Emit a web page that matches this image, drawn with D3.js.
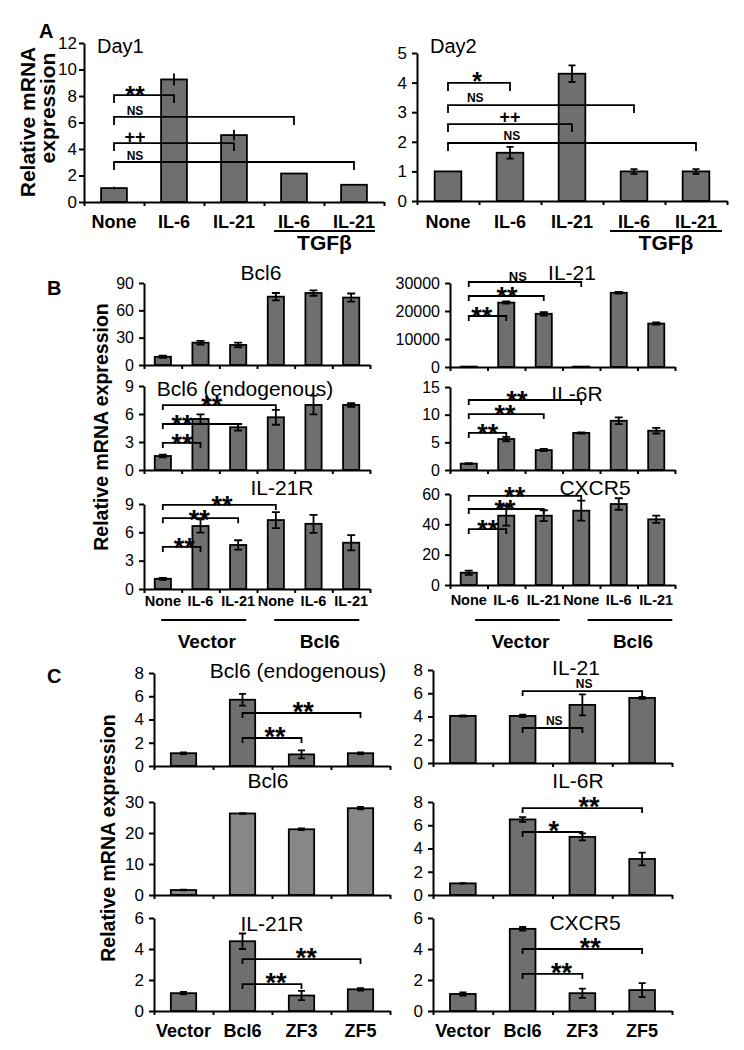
<!DOCTYPE html>
<html><head><meta charset="utf-8">
<script src="https://cdn.jsdelivr.net/npm/d3@7"></script>
<style>
body{margin:0;background:#fff}
svg{display:block}
text{font-family:"Liberation Sans",Arial,Helvetica,sans-serif;fill:#000}
</style>
</head><body>
<svg id="chart" width="744" height="1050"></svg>
<script>
// ---------------- DATA ----------------
const catsA = ["None", "IL-6", "IL-21", "IL-6", "IL-21"];
const day1Values = [1.05, 9.25, 5.05, 2.15, 1.3];
const day1Errors = [0.1, 0.45, 0.4, 0, 0];
const day2Values = [1.0, 1.63, 4.3, 1.0, 1.0];
const day2Errors = [0, 0.2, 0.28, 0.08, 0.08];
const ticksDay1 = [0, 2, 4, 6, 8, 10, 12];
const ticksDay2 = [0, 1, 2, 3, 4, 5];
// brackets: [from, to, level (data units), label, label position (category index)]
const day1Brackets = [[0, 1, 8.07, "**", 0.35], [0, 3, 6.42, "NS", 0.35], [0, 2, 4.45, "++", 0.35], [0, 4, 3.02, "NS", 0.35]];
const day2Brackets = [[0, 1, 3.99, "*", 0.47], [0, 3, 3.24, "NS", 0.44], [0, 2, 2.6, "++", 1.0], [0, 4, 1.96, "NS", 1.03]];

const catsB = ["None", "IL-6", "IL-21", "None", "IL-6", "IL-21"];
const groupsB = ["Vector", "Bcl6"];
const bBcl6Values = [9, 24.5, 22, 75, 79, 74];
const bBcl6Errors = [1.2, 2, 2.5, 4, 3, 4.5];
const bBcl6EndoValues = [1.5, 5.47, 4.58, 5.65, 6.97, 6.97];
const bBcl6EndoErrors = [0.15, 0.5, 0.35, 0.8, 1.0, 0.2];
const bIL21RValues = [1.08, 6.67, 4.66, 7.3, 6.9, 4.9];
const bIL21RErrors = [0.1, 0.7, 0.5, 0.85, 0.95, 0.8];
const bIL21Values = [150, 23000, 19000, 150, 26500, 15500];
const bIL21Errors = [0, 400, 600, 0, 300, 400];
const bIL6RValues = [1.15, 5.6, 3.6, 6.7, 8.9, 7.1];
const bIL6RErrors = [0.1, 0.4, 0.2, 0.1, 0.6, 0.5];
const bCXCR5Values = [8.1, 45.7, 45.7, 49, 53.4, 43.3];
const bCXCR5Errors = [1.4, 6.5, 3.6, 6.6, 3.8, 2.4];
const ticksBBcl6 = [0, 30, 60, 90];
const ticksB9 = [0, 3, 6, 9];
const ticksBIL21 = [0, 10000, 20000, 30000];
const ticksBIL6R = [0, 5, 10, 15];
const ticksBCXCR5 = [0, 20, 40, 60];
const bBcl6EndoBrackets = [[0, 3, 6.96, "**", 1.3], [0, 2, 4.93, "**", 0.51], [0, 1, 2.9, "**", 0.51]];
const bIL21RBrackets = [[0, 3, 8.9, "**", 1.57], [0, 2, 7.5, "**", 0.97], [0, 1, 4.45, "**", 0.57]];
const bIL21Brackets = [[0, 3, 30350, "NS", 1.31], [0, 2, 25360, "**", 1.02], [0, 1, 18210, "**", 0.35]];
const bIL6RBrackets = [[0, 3, 12.65, "**", 1.29], [0, 2, 10.1, "**", 0.97], [0, 1, 6.7, "**", 0.51]];
const bCXCR5Brackets = [[0, 3, 58.7, "**", 1.23], [0, 2, 50.1, "**", 0.97], [0, 1, 36.9, "**", 0.51]];

const catsC = ["Vector", "Bcl6", "ZF3", "ZF5"];
const cBcl6EndoValues = [1.1, 5.7, 1.0, 1.1];
const cBcl6EndoErrors = [0.08, 0.5, 0.35, 0.08];
const cBcl6Values = [1.6, 26.3, 21.2, 28];
const cBcl6Errors = [0.1, 0.1, 0.3, 0.4];
const cIL21RValues = [1.15, 4.5, 1.0, 1.4];
const cIL21RErrors = [0.08, 0.5, 0.3, 0.08];
const cIL21Values = [4.05, 4.05, 5.0, 5.6];
const cIL21Errors = [0.05, 0.1, 0.9, 0.08];
const cIL6RValues = [1.0, 6.5, 5.0, 3.1];
const cIL6RErrors = [0.03, 0.2, 0.3, 0.55];
const cCXCR5Values = [1.1, 5.3, 1.15, 1.35];
const cCXCR5Errors = [0.1, 0.12, 0.3, 0.45];
const ticksC8 = [0, 2, 4, 6, 8];
const ticksC30 = [0, 10, 20, 30];
const ticksC6 = [0, 2, 4, 6];
const cBcl6EndoBrackets = [[1, 3, 4.56, "**", 2.03], [1, 2, 2.41, "**", 1.55]];
const cIL21RBrackets = [[1, 3, 3.35, "**", 2.08], [1, 2, 1.74, "**", 1.57]];
const cIL21Brackets = [[1, 3, 6.19, "NS", 2.03], [1, 2, 3.01, "NS", 1.53]];
const cIL6RBrackets = [[1, 3, 7.48, "**", 2.11], [1, 2, 5.42, "*", 1.52]];
const cCXCR5Brackets = [[1, 3, 4.0, "**", 2.13], [1, 2, 2.39, "**", 1.65]];

// ---------------- DRAWING ----------------
const svg = d3.select("#chart");
const BAR = "#6f6f6f";
const SW = 1.8;

// glyph bottom (em above baseline) for annotation labels
function labelStyle(lab, kind) {
  if (lab.includes("*")) return {size: kind === "A" ? 25 : 27, lift: 0.42};
  if (lab.includes("+")) return {size: 18, lift: 0.11};
  return {size: kind === "B" ? 13 : 12, lift: 0};
}

function panel(o) {
  const n = o.values.length;
  const x = d3.scaleBand().domain(d3.range(n)).range([o.x0, o.x1]).paddingInner(0.57).paddingOuter(0.285);
  const xi = d3.scaleLinear().domain([0, n]).range([o.x0, o.x1]);
  const y = d3.scaleLinear().domain([0, o.max]).range([o.y0, o.yTop]);
  const bw = x.bandwidth();
  const g = svg.append("g");

  // bars
  g.selectAll("rect").data(o.values).join("rect")
    .attr("x", (d, i) => x(i)).attr("y", d => y(d))
    .attr("width", bw).attr("height", d => Math.max(0.6, y(0) - y(d)))
    .attr("fill", o.fill || BAR).attr("stroke", "#000").attr("stroke-width", SW);

  // error bars
  const eb = g.append("g").attr("stroke", "#000").attr("stroke-width", SW).attr("fill", "none");
  o.values.forEach((v, i) => {
    const e = o.errors[i];
    if (!e) return;
    const cx = x(i) + bw / 2;
    const y1 = y(v + e), y2 = y(Math.max(0, v - e));
    let d = `M${cx},${y1}V${y2}`;
    if (o.cap) d += `M${cx - o.cap / 2},${y1}H${cx + o.cap / 2}M${cx - o.cap / 2},${y2}H${cx + o.cap / 2}`;
    eb.append("path").attr("d", d);
  });

  // y axis
  const ya = g.append("g").attr("transform", `translate(${o.x0},0)`)
    .call(d3.axisLeft(y).tickValues(o.ticks).tickSize(5).tickSizeOuter(0).tickPadding(o.pad).tickFormat(d3.format("d")));
  ya.attr("font-size", null).attr("font-family", null);
  ya.selectAll("path,line").attr("stroke", "#000").attr("stroke-width", 2);
  ya.selectAll("text").style("font-size", o.tickFont + "px").attr("fill", "#000");

  // x axis with boundary ticks
  const xa = g.append("g").attr("transform", `translate(0,${o.y0})`)
    .call(d3.axisBottom(xi).tickValues(d3.range(n + 1)).tickSize(4).tickSizeOuter(0).tickFormat(""));
  xa.selectAll("path,line").attr("stroke", "#000").attr("stroke-width", 2);

  // brackets
  (o.brackets || []).forEach(([a, b, lv, lab, at]) => {
    const xa1 = x(a) + bw / 2, xb1 = x(b) + bw / 2, yy = y(lv);
    g.append("path").attr("d", `M${xa1},${yy + o.tick}V${yy}H${xb1}V${yy + o.tick}`)
      .attr("fill", "none").attr("stroke", "#000").attr("stroke-width", SW);
    const st = labelStyle(lab, o.kind);
    g.append("text").attr("x", xi(at + 0.5)).attr("y", yy - o.gap + st.lift * st.size)
      .attr("text-anchor", "middle").style("font-size", st.size + "px").style("font-weight", "bold").text(lab);
  });

  // title
  if (o.title) {
    g.append("text").attr("x", o.title[1]).attr("y", o.title[2])
      .attr("text-anchor", o.title[3] || "middle").style("font-size", (o.title[4] || 21) + "px").text(o.title[0]);
  }

  // category labels
  if (o.cats) {
    g.selectAll("text.cat").data(o.cats).join("text").attr("class", "cat")
      .attr("x", (d, i) => x(i) + bw / 2).attr("y", o.catY)
      .attr("text-anchor", "middle").style("font-size", o.catFont + "px").style("font-weight", "bold")
      .text(d => d);
  }
  return {x, xi, y, bw, g};
}

function yLabel(txt, x, y, size) {
  svg.append("text").attr("transform", `translate(${x},${y}) rotate(-90)`)
    .attr("text-anchor", "middle").style("font-size", size + "px").style("font-weight", "bold").text(txt);
}
function letter(txt, x, y) {
  svg.append("text").attr("x", x).attr("y", y).style("font-size", "20px").style("font-weight", "bold").text(txt);
}
function underline(x1, x2, yy) {
  svg.append("line").attr("x1", x1).attr("x2", x2).attr("y1", yy).attr("y2", yy)
    .attr("stroke", "#000").attr("stroke-width", 2);
}

// ---- Panel A ----
letter("A", 39, 38);
yLabel("Relative  mRNA", 35, 122, 21);
yLabel("expression", 55, 108, 21);
const a1 = panel({kind: "A", values: day1Values, errors: day1Errors, ticks: ticksDay1, max: 12,
  x0: 84, x1: 384, y0: 202, yTop: 43, pad: 2, tickFont: 17, cap: 0, tick: 8, gap: 2,
  brackets: day1Brackets, title: ["Day1", 97, 53, "start", 20], cats: catsA, catY: 228, catFont: 18});
const a2 = panel({kind: "A", values: day2Values, errors: day2Errors, ticks: ticksDay2, max: 5,
  x0: 417, x1: 727, y0: 201, yTop: 53, pad: 5, tickFont: 17, cap: 7, tick: 8, gap: 3,
  brackets: day2Brackets, title: ["Day2", 430, 53, "start", 20], cats: catsA, catY: 228, catFont: 18});
[a1, a2].forEach((p, k) => {
  const x1 = p.xi(3) + (k ? 7 : 10), x2 = p.xi(5) - (k ? 5 : 9);
  underline(x1, x2, 231);
  svg.append("text").attr("x", (x1 + x2) / 2).attr("y", 250).attr("text-anchor", "middle")
    .style("font-size", "21px").style("font-weight", "bold").text("TGFβ");
});

// ---- Panel B ----
letter("B", 47, 295);
yLabel("Relative  mRNA expression", 108, 427, 19.5);
const bCommonL = {kind: "B", x0: 144, x1: 370, pad: 5, tickFont: 16, cap: 8, tick: 5, gap: 1};
const bCommonR = {kind: "B", x0: 450, x1: 675, pad: 5, tickFont: 16, cap: 8, tick: 5, gap: 1};
panel({...bCommonL, values: bBcl6Values, errors: bBcl6Errors, ticks: ticksBBcl6, max: 90, y0: 365, yTop: 283,
  title: ["Bcl6", 261, 280]});
panel({...bCommonL, values: bBcl6EndoValues, errors: bBcl6EndoErrors, ticks: ticksB9, max: 9, y0: 470, yTop: 386,
  brackets: bBcl6EndoBrackets, title: ["Bcl6 (endogenous)", 245, 396]});
const b3 = panel({...bCommonL, values: bIL21RValues, errors: bIL21RErrors, ticks: ticksB9, max: 9, y0: 589, yTop: 504,
  brackets: bIL21RBrackets, title: ["IL-21R", 282, 495], cats: catsB, catY: 606, catFont: 14.5});
panel({...bCommonR, values: bIL21Values, errors: bIL21Errors, ticks: ticksBIL21, max: 30000, y0: 367, yTop: 283,
  brackets: bIL21Brackets, title: ["IL-21", 572, 280]});
panel({...bCommonR, values: bIL6RValues, errors: bIL6RErrors, ticks: ticksBIL6R, max: 15, y0: 470, yTop: 387,
  brackets: bIL6RBrackets, title: ["IL-6R", 577, 401]});
const b6 = panel({...bCommonR, values: bCXCR5Values, errors: bCXCR5Errors, ticks: ticksBCXCR5, max: 60, y0: 585, yTop: 494,
  brackets: bCXCR5Brackets, title: ["CXCR5", 595, 495], cats: catsB, catY: 605, catFont: 14.5});
[[b3, 0], [b6, 8]].forEach(([p, shift]) => {
  groupsB.forEach((gname, k) => {
    const x1 = p.x(k * 3) + 0.4 * p.bw + shift, x2 = p.x(k * 3 + 2) + p.bw + shift;
    underline(x1, x2, 620);
    svg.append("text").attr("x", (x1 + x2) / 2 + 3).attr("y", 648).attr("text-anchor", "middle")
      .style("font-size", "19px").style("font-weight", "bold").text(gname);
  });
});

// ---- Panel C ----
letter("C", 47, 683);
yLabel("Relative mRNA expression", 115, 838, 19.5);
const cCommonL = {kind: "C", x0: 154, x1: 390, pad: 5, tickFont: 17, cap: 7, tick: 5, gap: 3};
const cCommonR = {kind: "C", x0: 433, x1: 672, pad: 5, tickFont: 17, cap: 7, tick: 5, gap: 3};
panel({...cCommonL, values: cBcl6EndoValues, errors: cBcl6EndoErrors, ticks: ticksC8, max: 8, y0: 766, yTop: 673,
  brackets: cBcl6EndoBrackets, title: ["Bcl6 (endogenous)", 298, 678]});
panel({...cCommonL, values: cBcl6Values, errors: cBcl6Errors, ticks: ticksC30, max: 30, y0: 895, yTop: 802,
  fill: "#878787", title: ["Bcl6", 268, 788]});
panel({...cCommonL, values: cIL21RValues, errors: cIL21RErrors, ticks: ticksC6, max: 6, y0: 1011, yTop: 918,
  brackets: cIL21RBrackets, title: ["IL-21R", 272, 931], cats: catsC, catY: 1037, catFont: 18});
panel({...cCommonR, values: cIL21Values, errors: cIL21Errors, ticks: ticksC8, max: 8, y0: 763, yTop: 670,
  brackets: cIL21Brackets, title: ["IL-21", 576, 675]});
panel({...cCommonR, values: cIL6RValues, errors: cIL6RErrors, ticks: ticksC8, max: 8, y0: 895, yTop: 802,
  brackets: cIL6RBrackets, title: ["IL-6R", 578, 788]});
panel({...cCommonR, values: cCXCR5Values, errors: cCXCR5Errors, ticks: ticksC6, max: 6, y0: 1011, yTop: 918,
  brackets: cCXCR5Brackets, title: ["CXCR5", 585, 930], cats: catsC, catY: 1037, catFont: 18});
</script>
</body></html>
